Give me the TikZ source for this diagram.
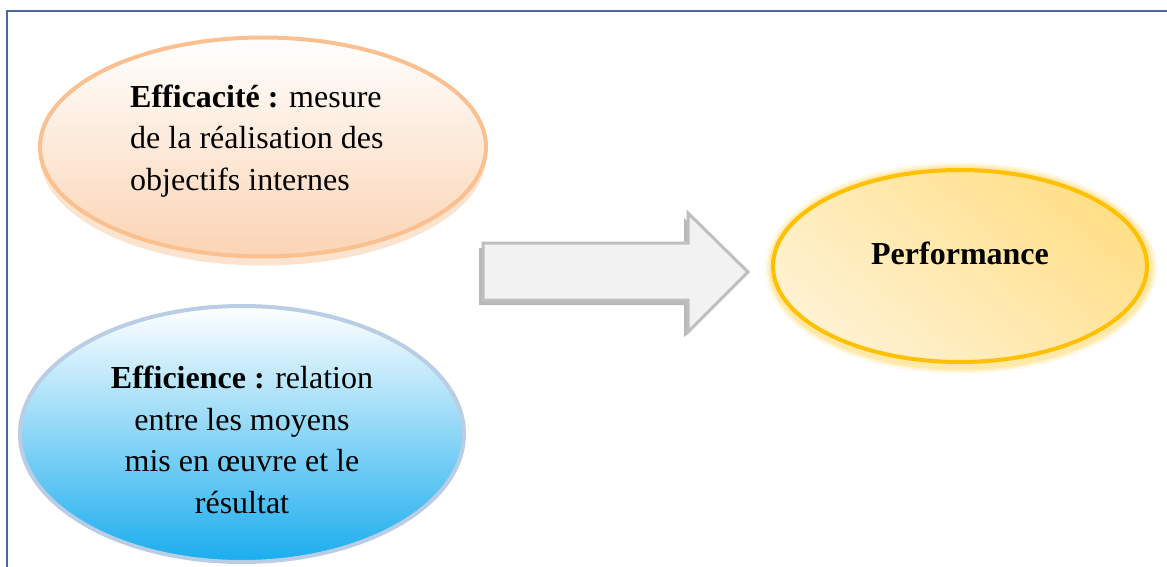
\documentclass[tikz,border=0pt]{standalone}
\usepackage{fontspec}
\setmainfont{Liberation Serif}
\usetikzlibrary{shapes.geometric}
\definecolor{frameblue}{HTML}{4A6A9C}
\definecolor{orangeborder}{HTML}{FAC090}
\definecolor{orangefill}{HTML}{FBD4B4}
\definecolor{orangemid}{HTML}{FDEADB}
\definecolor{orangeshadow}{HTML}{FCE3CE}
\definecolor{blueborder}{HTML}{B9CDE5}
\definecolor{bluefill}{HTML}{1AADEE}
\definecolor{bluemid}{HTML}{C2E4F8}
\definecolor{goldborder}{HTML}{FFC000}
\definecolor{golddark}{HTML}{FFDF88}
\definecolor{goldlight}{HTML}{FFF2D2}
\definecolor{arrowfill}{HTML}{F2F2F2}
\definecolor{arrowborder}{HTML}{BFBFBF}
\definecolor{arrowshadow}{HTML}{9A9A9A}
\tikzset{
  bubble/.style={ellipse, line width=4pt, inner sep=0pt},
  bigtext/.style={font=\fontsize{32}{41.5}\selectfont, inner sep=0pt, text=black},
}
\begin{document}
\begin{tikzpicture}[x=1pt,y=-1pt]
\useasboundingbox (0,0) rectangle (1167,567);
\fill[white] (0,0) rectangle (1167,567);
% frame
\draw[frameblue, line width=2pt] (7,580) -- (7,11) -- (1180,11);
% orange ellipse
\node[bubble, fill=orangeshadow, minimum width=446pt, minimum height=219pt] (effshadow) at (263,156) {};
\node[bubble, draw=orangeborder, top color=white, middle color=orangemid, bottom color=orangefill,
      minimum width=446pt, minimum height=219pt] (eff) at (263,147) {};
\node[bigtext, anchor=west, align=left] (efftext) at (130,141)
  {\textbf{Efficacité :} mesure\\de la réalisation des\\objectifs internes};
% blue ellipse
\node[bubble, draw=blueborder, top color=white, middle color=bluemid, bottom color=bluefill,
      minimum width=444pt, minimum height=256pt] (effi) at (242,434) {};
\node[bigtext, align=center] (effitext) at (242,440)
  {\textbf{Efficience :} relation\\entre les moyens\\mis en œuvre et le\\résultat};
% arrow
\coordinate (arrowtail) at (483,243);
\fill[arrowshadow, opacity=0.7] ([shift={(-4,5)}]arrowtail) -- ++(205,0) -- ++(0,-30) -- ++(60,59) -- ++(-60,60) -- ++(0,-32) -- ++(-205,0) -- cycle;
\draw[arrowborder, fill=arrowfill, line width=3pt, line join=miter] (arrowtail) -- ++(205,0) -- ++(0,-30) -- ++(60,59) -- ++(-60,60) -- ++(0,-32) -- ++(-205,0) -- cycle;
% performance ellipse
\foreach \w/\o in {16/0.08, 12/0.12, 8/0.18}{
  \node[ellipse, draw=goldborder, line width=\w pt, draw opacity=\o, minimum width=376pt, minimum height=196pt] at (961,268) {};
}
\node[bubble, draw=goldborder, top color=golddark, bottom color=goldlight, shading angle=-40,
      minimum width=374pt, minimum height=192pt] (perf) at (960,266) {};
\node[bigtext, font=\fontsize{32}{41.5}\selectfont\bfseries] (perftext) at (960,253) {Performance};
\end{tikzpicture}
\end{document}
